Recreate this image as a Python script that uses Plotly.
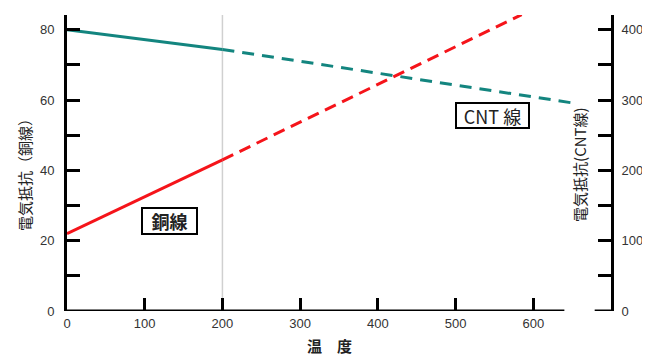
import plotly.graph_objects as go

# ---- data ----
temp_solid = [0, 200]
copper_solid = [22, 43]
cnt_solid = [400, 372]

temp_copper_dash = [200, 585]
copper_dash = [43, 84.3]

temp_cnt_dash = [200, 650]
cnt_dash = [372, 296]

x_ticks = [0, 100, 200, 300, 400, 500, 600]
x_labels = ["0", "100", "200", "300", "400", "500", "600"]
left_ticks = [0, 10, 20, 30, 40, 50, 60, 70, 80]
left_labels = ["0", "", "20", "", "40", "", "60", "", "80"]
right_ticks = [0, 50, 100, 150, 200, 250, 300, 350, 400]
right_labels = ["0", "", "100", "", "200", "", "300", "", "400"]

RED = "#f5141a"
TEAL = "#13857f"
CJK = "Noto Sans CJK JP"
LAT = "Liberation Sans, Arial"

fig = go.Figure()
fig.add_trace(go.Scatter(x=temp_solid, y=copper_solid, mode="lines",
                         line=dict(color=RED, width=3), yaxis="y", showlegend=False))
fig.add_trace(go.Scatter(x=temp_copper_dash, y=copper_dash, mode="lines",
                         line=dict(color=RED, width=3, dash="12px,7px"), yaxis="y", showlegend=False))
fig.add_trace(go.Scatter(x=temp_solid, y=cnt_solid, mode="lines",
                         line=dict(color=TEAL, width=3), yaxis="y2", showlegend=False))
fig.add_trace(go.Scatter(x=temp_cnt_dash, y=cnt_dash, mode="lines",
                         line=dict(color=TEAL, width=3, dash="12px,8px"), yaxis="y2", showlegend=False))

# vertical reference line at 200
fig.add_shape(type="line", xref="x", yref="paper", x0=200, x1=200, y0=0, y1=1,
              line=dict(color="#d0d0d0", width=1.5), layer="below")
# bottom axis line (stops short of right axis) and right-axis hook
fig.add_shape(type="line", xref="x", yref="y", x0=0, x1=640, y0=0, y1=0,
              line=dict(color="black", width=3))
fig.add_shape(type="line", xref="x", yref="y", x0=679, x1=700, y0=0, y1=0,
              line=dict(color="black", width=3))

tickfont = dict(family=LAT, size=13, color="#333333")

fig.update_layout(
    width=642, height=348,
    margin=dict(l=59, r=39, t=7, b=45),
    paper_bgcolor="white", plot_bgcolor="white",
    xaxis=dict(range=[0, 700], tickvals=x_ticks, ticktext=x_labels,
               ticks="inside", ticklen=13, tickwidth=3, tickcolor="black",
               showline=False, showgrid=False, zeroline=False, tickfont=tickfont,
               ticklabelstandoff=3),
    yaxis=dict(range=[0, 84.2], tickvals=left_ticks, ticktext=left_labels,
               ticks="inside", ticklen=13, tickwidth=3, tickcolor="black",
               showline=True, linewidth=3, linecolor="black",
               showgrid=False, zeroline=False, tickfont=tickfont, ticklabelstandoff=7),
    yaxis2=dict(range=[0, 421], tickvals=right_ticks, ticktext=right_labels, overlaying="y", side="right",
                ticks="inside", ticklen=13, tickwidth=3, tickcolor="black",
                showline=True, linewidth=3, linecolor="black",
                showgrid=False, zeroline=False, tickfont=tickfont, ticklabelstandoff=5),
    annotations=[
        dict(text="電気抵抗（銅線）", xref="paper", yref="paper", x=-0.077, y=0.473, textangle=-90,
             xanchor="center", yanchor="middle",
             showarrow=False, font=dict(family=CJK, size=15, color="#222222")),
        dict(text="電気抵抗(CNT線)", xref="paper", yref="paper", x=0.943, y=0.497, textangle=-90,
             xanchor="center", yanchor="middle",
             showarrow=False, font=dict(family=CJK, size=15, color="#222222")),
        dict(text="<b>温　度</b>", xref="paper", yref="paper", x=0.483, y=-0.118,
             xanchor="center", yanchor="middle",
             showarrow=False, font=dict(family=CJK, size=15, color="#222222")),
        dict(text="<b>銅線</b>", xref="x", yref="y", x=132.5, y=25.6, showarrow=False,
             xanchor="center", yanchor="middle", width=51, height=22,
             font=dict(family=CJK, size=18, color="#222222"),
             bordercolor="black", borderwidth=2, borderpad=1, bgcolor="white"),
        dict(text="CNT 線", xref="x", yref="y", x=547, y=55.6, showarrow=False,
             xanchor="center", yanchor="middle", width=69, height=21,
             font=dict(family=CJK, size=18, color="#222222"),
             bordercolor="black", borderwidth=2, borderpad=1, bgcolor="white"),
    ],
)

fig.write_html("out.html")
